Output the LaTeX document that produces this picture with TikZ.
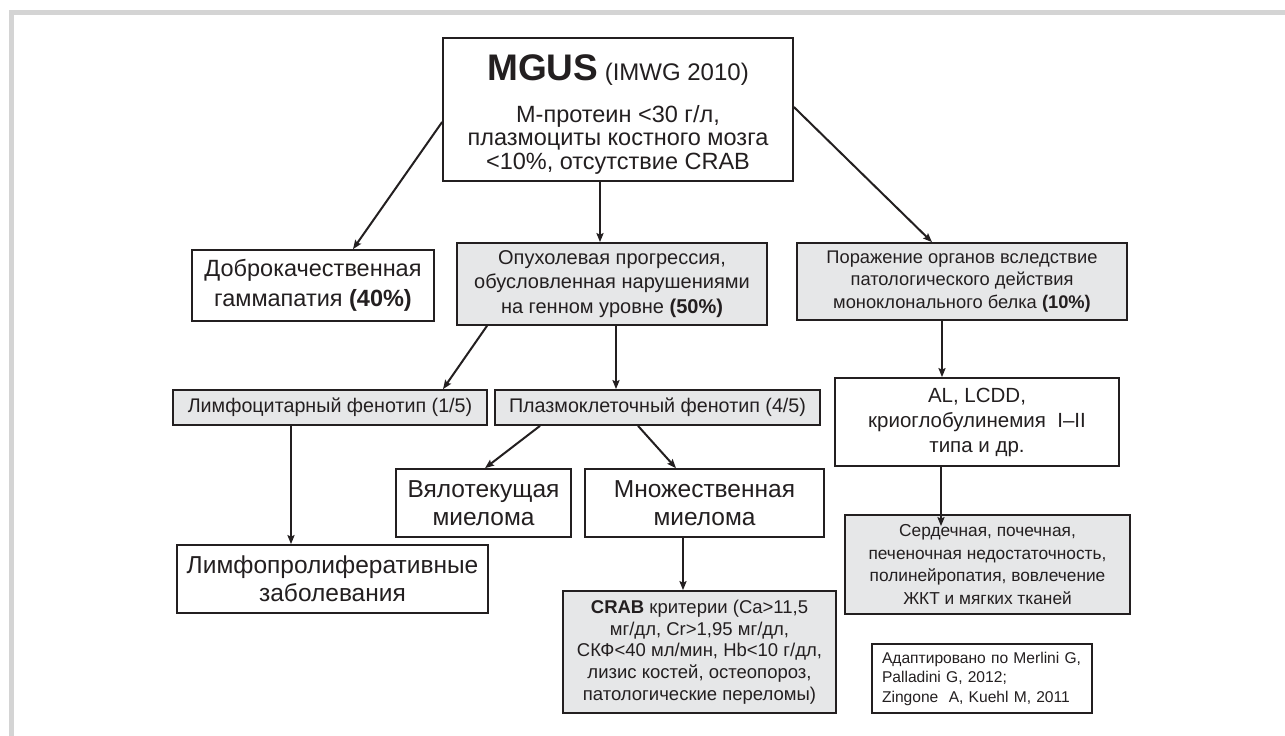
\documentclass[tikz,border=0pt]{standalone}
\usepackage{fontspec}
\setmainfont{Liberation Sans}
\usetikzlibrary{arrows.meta}
\definecolor{ink}{HTML}{231F20}
\definecolor{boxgray}{HTML}{E6E7E8}
\definecolor{framegray}{HTML}{D4D4D4}
\begin{document}
\begin{tikzpicture}[x=1pt,y=-1pt,
  box/.style={draw=ink, line width=1.7pt, inner sep=0pt, align=center, text=ink},
  graybox/.style={box, fill=boxgray},
  arr/.style={draw=ink, line width=2pt, -{Stealth[length=9pt,width=7pt,inset=1.5pt]}}]
\useasboundingbox (0,0) rectangle (1285,736);
\fill[white] (0,0) rectangle (1285,736);
\draw[framegray, line width=5pt] (11,736) -- (11,12) -- (1285,12);

\node[box, minimum width=350pt, minimum height=143pt] (mgus) at (618,109.5) {};
\node[inner sep=0pt, align=center, text=ink, font=\fontsize{23.5}{23.5}\selectfont] (mgustext) at ([yshift=-5pt]mgus.center)
  {{\fontsize{37}{40}\selectfont\bfseries MGUS} {\fontsize{24}{24}\selectfont(IMWG 2010)}\\[18pt]
   М-протеин <30 г/л,\\ плазмоциты костного мозга\\ <10\%, отсутствие CRAB};
\node[box, minimum width=242pt, minimum height=71pt, font=\fontsize{23.5}{30}\selectfont] (benign) at (313,285.5)
  {Доброкачественная\\ гаммапатия \textbf{(40\%)}};
\node[graybox, minimum width=310pt, minimum height=82pt, font=\fontsize{20}{24.5}\selectfont] (tumor) at (612,284)
  {Опухолевая прогрессия,\\ обусловленная нарушениями\\ на генном уровне \textbf{(50\%)}};
\node[graybox, minimum width=330pt, minimum height=77pt, font=\fontsize{18.3}{22.5}\selectfont] (organ) at (962,281.5)
  {Поражение органов вследствие\\ патологического действия\\ моноклонального белка \textbf{(10\%)}};
\node[graybox, minimum width=314pt, minimum height=35pt, font=\fontsize{19.7}{22}\selectfont] (lymph) at (330,407.5)
  {Лимфоцитарный фенотип (1/5)};
\node[graybox, minimum width=325pt, minimum height=35pt, font=\fontsize{19.7}{22}\selectfont] (plasma) at (657.5,407.5)
  {Плазмоклеточный фенотип (4/5)};
\node[box, minimum width=311pt, minimum height=68pt, font=\fontsize{24.5}{28}\selectfont] (lpd) at (332.5,579)
  {Лимфопролиферативные\\ заболевания};
\node[box, minimum width=175pt, minimum height=68pt, font=\fontsize{24.5}{28}\selectfont] (smold) at (483.5,503)
  {Вялотекущая\\ миелома};
\node[box, minimum width=239pt, minimum height=68pt, font=\fontsize{24.5}{28}\selectfont] (mm) at (704.5,503)
  {Множественная\\ миелома};
\node[graybox, minimum width=273pt, minimum height=122pt, font=\fontsize{18.5}{21.7}\selectfont] (crab) at (699.5,652)
  {\textbf{CRAB} критерии (Ca>11,5\\ мг/дл, Cr>1,95 мг/дл,\\ СКФ<40 мл/мин, Hb<10 г/дл,\\ лизис костей, остеопороз,\\ патологические переломы)};
\node[box, minimum width=284pt, minimum height=88pt, font=\fontsize{20.5}{25}\selectfont] (al) at (977,422)
  {AL, LCDD,\\ криоглобулинемия\ \ I–II\\ типа и др.};
\node[graybox, minimum width=285pt, minimum height=99pt, font=\fontsize{17.3}{22.5}\selectfont] (organs) at (987.5,564.5)
  {Сердечная, почечная,\\ печеночная недостаточность,\\ полинейропатия, вовлечение\\ ЖКТ и мягких тканей};
\node[box, line width=1.2pt, minimum width=220pt, minimum height=69pt, align=left, text width=200pt, font=\fontsize{15.6}{19.5}\selectfont] (ref) at (982,678.5)
  {Адаптировано по Merlini G,\\ Palladini G, 2012;\\ Zingone\ \ A, Kuehl M, 2011};

\draw[arr] ([yshift=-12.5pt]mgus.west) -- ([xshift=40pt]benign.north);
\draw[arr] ([xshift=-18pt]mgus.south) -- ([xshift=-18pt]mgus.south |- tumor.north);
\draw[arr] ([yshift=2.5pt]mgus.east) -- ([xshift=-30pt]organ.north);
\draw[arr] ([xshift=-125pt]tumor.south) -- ([xshift=113pt]lymph.north);
\draw[arr] ([xshift=4pt]tumor.south) -- ([xshift=4pt]tumor.south |- plasma.north);
\draw[arr] ([xshift=-20pt]organ.south) -- ([xshift=-20pt]organ.south |- al.north);
\draw[arr] ([xshift=-39pt]lymph.south) -- ([xshift=-39pt]lymph.south |- lpd.north);
\draw[arr] ([xshift=-117.5pt]plasma.south) -- ([xshift=1.5pt]smold.north);
\draw[arr] ([xshift=-19.5pt]plasma.south) -- ([xshift=-28.5pt]mm.north);
\draw[arr] ([xshift=-21.5pt]mm.south) -- ([xshift=-21.5pt]mm.south |- crab.north);
\draw[arr] ([xshift=-36pt]al.south) -- ([xshift=-36pt,yshift=-12pt]al.south |- organs.north);
\end{tikzpicture}
\end{document}
